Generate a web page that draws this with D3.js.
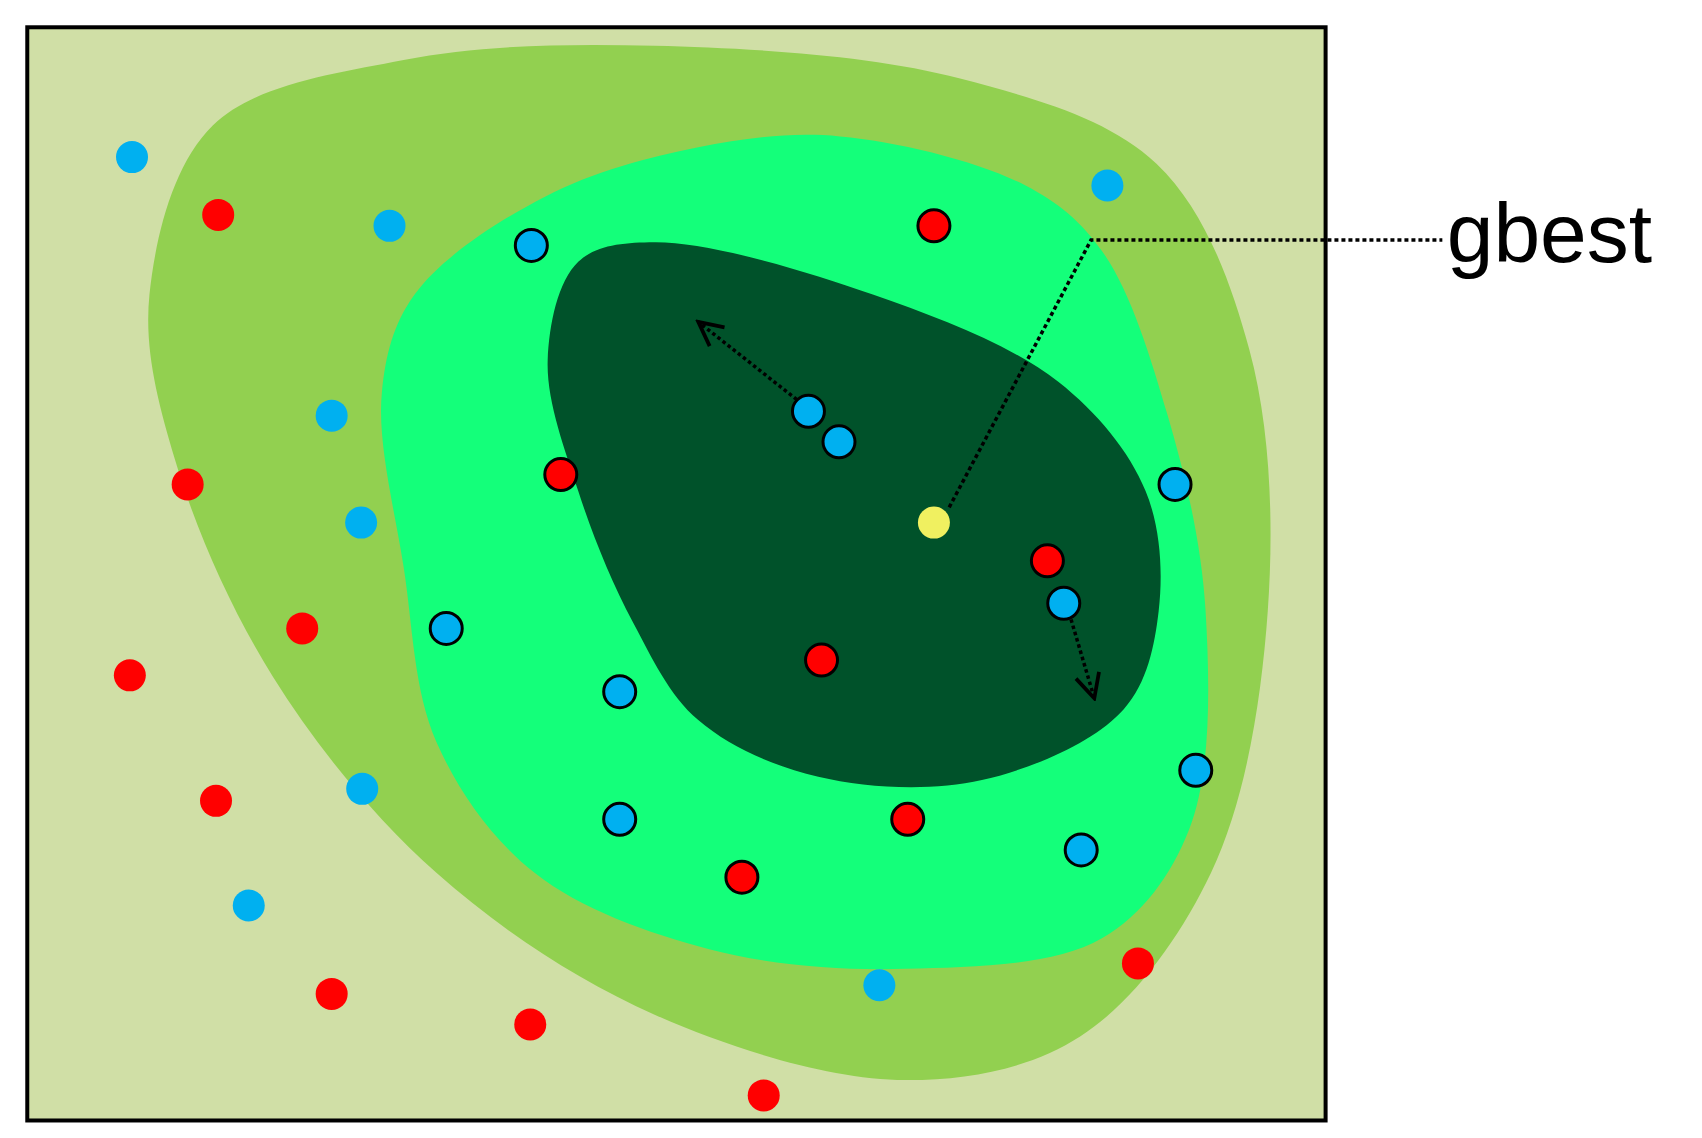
<!DOCTYPE html><html><head><script src="https://cdn.jsdelivr.net/npm/d3@7"></script>
<style>body{margin:0;background:#fff}</style></head><body><svg id="c" width="1702" height="1138"></svg><script>
const outerZone=[[600,42],[880,72],[1060,150],[1145,320],[1162,560],[1110,800],[990,950],[830,990],[600,930],[400,800],[250,620],[160,420],[137,270],[195,115],[370,55]];
const midZone=[[770,125],[940,170],[1010,230],[1070,380],[1105,560],[1090,760],[1010,860],[830,888],[650,870],[490,800],[400,680],[370,520],[350,360],[380,270],[500,180],[640,135]];
const innerZone=[[600,222],[800,270],[970,350],[1050,450],[1062,560],[1030,650],[900,715],[750,712],[640,660],[580,570],[530,450],[502,330],[530,240]];
const bluePlain=[[121,144],[357,207],[304,381],[331,479],[332,723],[228,830],[806,903],[1015,170]];
const redPlain=[[200,197],[172,444],[277,576],[119,619],[198,734],[304,911],[486,939],[700,1004],[1043,883]];
const blueOut=[[487,225],[741,377],[769,405],[1077,444],[409,576],[568,634],[975,553],[1096,706],[568,751],[991,779]];
const redOut=[[856,207],[514,435],[960,514],[753,605],[832,751],[680,804]];
const gbestPt=[856,479];
const arrows=[[[735,370],[640,295]],[[980,562],[1003,640]]];
const gbestLine=[[870,465],[1000,220],[1322,220]];
const k=1702/1560;
const x=d3.scaleLinear().domain([0,1560]).range([0,1560*k]);
const y=d3.scaleLinear().domain([0,1043]).range([0,1043*k]);
const svg=d3.select("#c");
const defs=svg.append("defs");
defs.append("marker").attr("id","ah").attr("viewBox","0 0 20 20").attr("refX",18).attr("refY",10).attr("markerWidth",30).attr("markerHeight",30).attr("markerUnits","userSpaceOnUse").attr("orient","auto")
 .append("path").attr("d","M2,2 L18,10 L2,18").attr("fill","none").attr("stroke","#000").attr("stroke-width",2.5);
svg.append("rect").attr("x",x(25)).attr("y",y(25)).attr("width",x(1215)-x(25)).attr("height",y(1027)-y(25)).attr("fill","#d0dfa6");
const blob=d3.line().x(d=>x(d[0])).y(d=>y(d[1])).curve(d3.curveCatmullRomClosed.alpha(0.5));
[[outerZone,"#92d050"],[midZone,"#14ff7a"],[innerZone,"#00522a"]].forEach(([d,c])=>svg.append("path").attr("d",blob(d)).attr("fill",c));
svg.append("rect").attr("x",x(25)).attr("y",y(25)).attr("width",x(1215)-x(25)).attr("height",y(1027)-y(25)).attr("fill","none").attr("stroke","#000").attr("stroke-width",4);
const ln=d3.line().x(d=>x(d[0])).y(d=>y(d[1]));
arrows.forEach(a=>svg.append("path").attr("d",ln(a)).attr("stroke","#000").attr("stroke-width",3.5).attr("stroke-dasharray","3.5,3").attr("fill","none").attr("marker-end","url(#ah)"));
svg.append("path").attr("d",ln(gbestLine)).attr("stroke","#000").attr("stroke-width",3.5).attr("stroke-dasharray","4,3").attr("fill","none");
const r=16;
function dots(d,fill,stroke){svg.selectAll(null).data(d).enter().append("circle").attr("cx",p=>x(p[0])).attr("cy",p=>y(p[1])).attr("r",r).attr("fill",fill).attr("stroke",stroke?"#000":"none").attr("stroke-width",3);}
dots(bluePlain,"#00b0f0",false);dots(redPlain,"#ff0000",false);dots(blueOut,"#00b0f0",true);dots(redOut,"#ff0000",true);dots([gbestPt],"#f0f060",false);
svg.append("text").attr("x",x(1326)).attr("y",y(240)).attr("font-family","Liberation Sans, Arial, sans-serif").attr("font-size",84).attr("fill","#000").text("gbest");
</script></body></html>
